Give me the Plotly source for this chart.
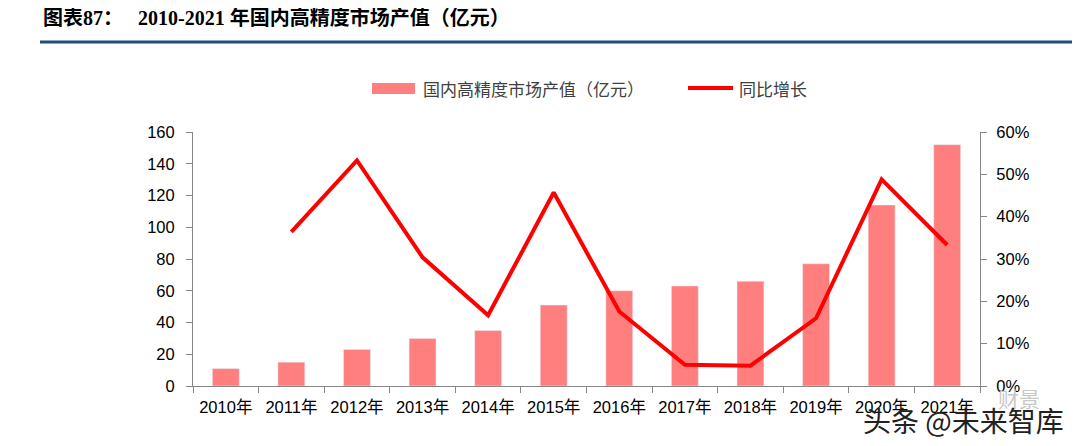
import plotly.graph_objects as go

years = ["2010年", "2011年", "2012年", "2013年", "2014年", "2015年",
         "2016年", "2017年", "2018年", "2019年", "2020年", "2021年"]
output_value = [11, 15, 23, 30, 35, 51, 60, 63, 66, 77, 114, 152]
yoy_growth = [None, 36.4, 53.3, 30.4, 16.7, 45.7, 17.6, 5.0, 4.8, 16.0, 48.8, 33.3]
left_ticks = [0, 20, 40, 60, 80, 100, 120, 140, 160]
right_ticks = [0, 10, 20, 30, 40, 50, 60]
right_labels = [f"{v}%" for v in right_ticks]

OFF = 8  # page body margin
W, H = 1080 - OFF, 446 - OFF
L, R, T, B = 193 - OFF, 100, 132 - OFF, 60
pw, ph = W - L - R, H - T - B

def px(x):
    return (x - OFF - L) / pw

def py(y):
    return (H - B - (y - OFF)) / ph

fig = go.Figure()
fig.add_trace(go.Bar(x=years, y=output_value, marker_color="#FF7F7F",
                     name="国内高精度市场产值（亿元）", showlegend=False))
fig.add_trace(go.Scatter(x=years, y=yoy_growth, yaxis="y2", mode="lines",
                         line=dict(color="#FF0000", width=4),
                         name="同比增长", showlegend=False))

tickfont = dict(family="Liberation Sans, Noto Sans CJK SC", size=16.5, color="#000000")
fig.update_layout(
    width=W, height=H,
    margin=dict(l=L, r=R, t=T, b=B),
    plot_bgcolor="white", paper_bgcolor="white",
    bargap=0.59,
    xaxis=dict(type="category", showline=True, linecolor="#888888", linewidth=1,
               ticks="outside", tickson="boundaries", ticklen=6, tickcolor="#888888",
               tickfont=tickfont, showgrid=False, ticklabelstandoff=6),
    yaxis=dict(range=[0, 160], tickvals=left_ticks, showline=True, linecolor="#888888",
               linewidth=1, ticks="outside", ticklen=6, tickcolor="#888888",
               tickfont=tickfont, showgrid=False, zeroline=False, ticklabelstandoff=8),
    yaxis2=dict(range=[0, 60], tickvals=right_ticks, ticktext=right_labels, overlaying="y",
                side="right", showline=True, linecolor="#888888", linewidth=1,
                ticks="outside", ticklen=6, tickcolor="#888888",
                tickfont=tickfont, showgrid=False, zeroline=False, ticklabelstandoff=6),
    showlegend=False,
)

# title and rule
fig.add_annotation(text="<b>图表87：   2010-2021 年国内高精度市场产值（亿元）</b>",
                   xref="paper", yref="paper", x=px(41), y=py(18),
                   xanchor="left", yanchor="middle", showarrow=False,
                   font=dict(family="Liberation Serif, Noto Sans CJK SC",
                             size=20, color="#000000"))
fig.add_shape(type="line", xref="paper", yref="paper", x0=px(40), x1=px(1080),
              y0=py(42), y1=py(42), line=dict(color="#1F4E79", width=3))

# custom legend
fig.add_shape(type="rect", xref="paper", yref="paper", x0=px(372), x1=px(415),
              y0=py(94), y1=py(83), fillcolor="#FF7F7F", line=dict(width=0))
fig.add_annotation(text="国内高精度市场产值（亿元）", xref="paper", yref="paper",
                   x=px(421), y=py(88), xanchor="left", yanchor="middle", showarrow=False,
                   font=dict(family="Noto Sans CJK SC", size=17, color="#404040"))
fig.add_shape(type="line", xref="paper", yref="paper", x0=px(688), x1=px(733),
              y0=py(88), y1=py(88), line=dict(color="#FF0000", width=4))
fig.add_annotation(text="同比增长", xref="paper", yref="paper",
                   x=px(737), y=py(88), xanchor="left", yanchor="middle", showarrow=False,
                   font=dict(family="Noto Sans CJK SC", size=17, color="#404040"))

# watermark
fig.add_annotation(text="财景", xref="paper", yref="paper",
                   x=px(996), y=py(398), xanchor="left", yanchor="middle", showarrow=False,
                   font=dict(family="Noto Sans CJK SC", size=21, color="#C8C8C8"))
fig.add_annotation(text="头条 @未来智库", xref="paper", yref="paper",
                   x=px(1066), y=py(420), xanchor="right", yanchor="middle", showarrow=False,
                   font=dict(family="Noto Sans CJK SC", size=28, color="#222222"))

fig.write_html("out.html")
